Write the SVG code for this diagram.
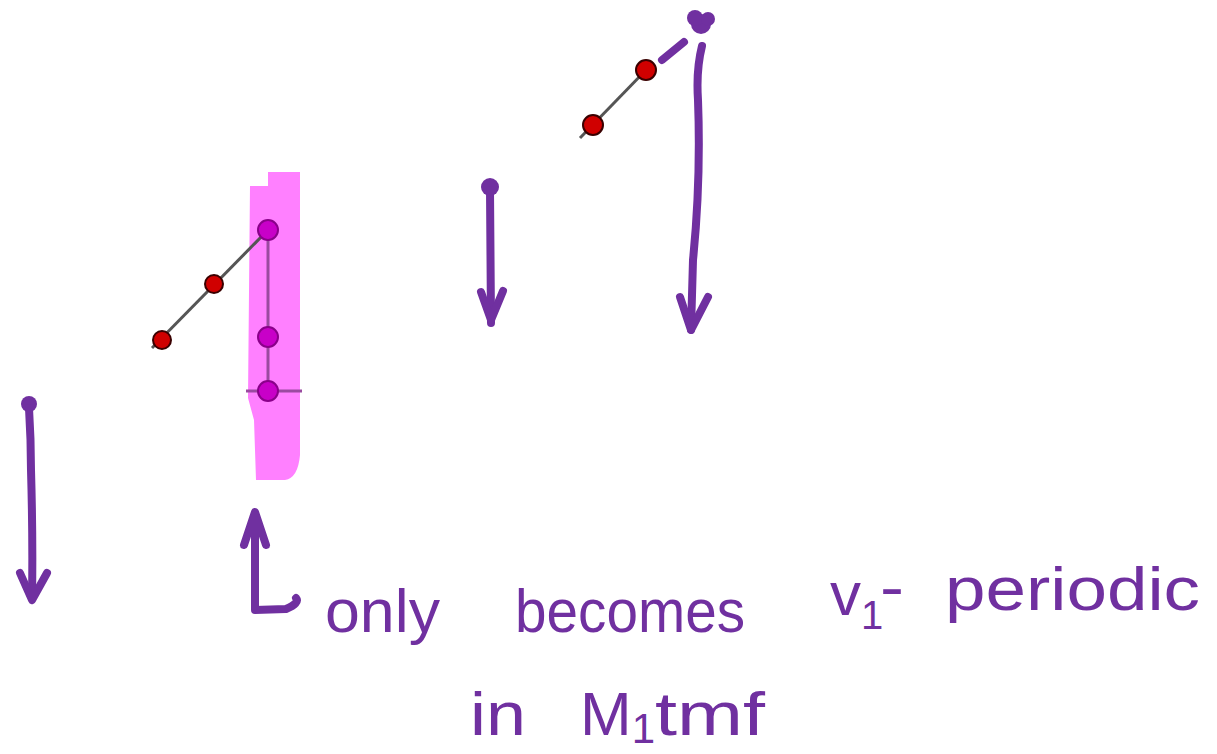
<svg xmlns="http://www.w3.org/2000/svg" width="1217" height="754" viewBox="0 0 1217 754">
<style>
.pen{fill:none;stroke:#7030A0;stroke-width:8;stroke-linecap:round;stroke-linejoin:round}
.dot{fill:#7030A0}
.red{fill:#D00000;stroke:#3a0000;stroke-width:2}
.mag{fill:#C800C8;stroke:#8a008a;stroke-width:2}
.edge{stroke:#555;stroke-width:3;fill:none}
.medge{stroke:#9a4aa0;stroke-width:3;fill:none}
.hand{font-family:"Liberation Sans",Arial,sans-serif;fill:#7030A0;font-size:62px}
</style>
<rect width="1217" height="754" fill="#fff"/>
<g id="highlight">
<path d="M250,186 L268,186 L268,172 L300,172 L300,455 Q298,478 285,480 L256,480 L254,420 L248,398 Z" fill="#FF80FF"/>
</g>
<g id="connectors">
<line class="edge" x1="152" y1="348" x2="268" y2="230"/>
<line class="medge" x1="268" y1="230" x2="268" y2="391"/>
<line class="medge" x1="246" y1="391" x2="302" y2="391"/>
<line class="edge" x1="580" y1="138" x2="646" y2="70"/>
</g>
<g id="node-r1"><circle class="red" cx="162" cy="340" r="9"/></g>
<g id="node-r2"><circle class="red" cx="214" cy="284" r="9"/></g>
<g id="node-m1"><circle class="mag" cx="268" cy="230" r="10"/></g>
<g id="node-m2"><circle class="mag" cx="268" cy="337" r="10"/></g>
<g id="node-m3"><circle class="mag" cx="268" cy="391" r="10"/></g>
<g id="node-r3"><circle class="red" cx="593" cy="125" r="10"/></g>
<g id="node-r4"><circle class="red" cx="646" cy="70" r="10"/></g>
<g id="arrows">
<circle class="dot" cx="29" cy="404" r="8"/>
<path class="pen" d="M29,408 Q31,440 31,470 Q33,540 32,598"/>
<path class="pen" d="M20,573 L32,600 L47,573"/>
<circle class="dot" cx="490" cy="187" r="9"/>
<path class="pen" d="M490,190 L491,323"/>
<path class="pen" d="M481,292 L491,320 L503,291"/>
<circle class="dot" cx="701" cy="24" r="10"/>
<circle class="dot" cx="695" cy="18" r="8"/>
<circle class="dot" cx="708" cy="19" r="7"/>
<path class="pen" d="M662,60 L684,42"/>
<path class="pen" d="M702,46 Q696,70 698,100 Q701,180 693,260 L691,330"/>
<path class="pen" d="M680,297 L691,330 L708,297"/>
<path class="pen" d="M244,545 L255,512 L266,545"/>
<path class="pen" d="M255,515 L255,610 L286,609 Q300,603 296,598"/>
</g>
<g id="labels">
<text class="hand" x="325" y="632" textLength="115" lengthAdjust="spacingAndGlyphs">only</text>
<text class="hand" x="515" y="632" textLength="230" lengthAdjust="spacingAndGlyphs">becomes</text>
<text class="hand" x="830" y="615">v<tspan font-size="40" dy="14">1</tspan></text>
<text class="hand" x="880" y="608" textLength="24" lengthAdjust="spacingAndGlyphs">-</text>
<text class="hand" x="945" y="610" textLength="255" lengthAdjust="spacingAndGlyphs">periodic</text>
<text class="hand" x="470" y="735" textLength="56" lengthAdjust="spacingAndGlyphs">in</text>
<text class="hand" x="580" y="735" font-size="68">M<tspan font-size="42" dy="8">1</tspan><tspan dy="-8" textLength="110" lengthAdjust="spacingAndGlyphs">tmf</tspan></text>
</g>
</svg>
